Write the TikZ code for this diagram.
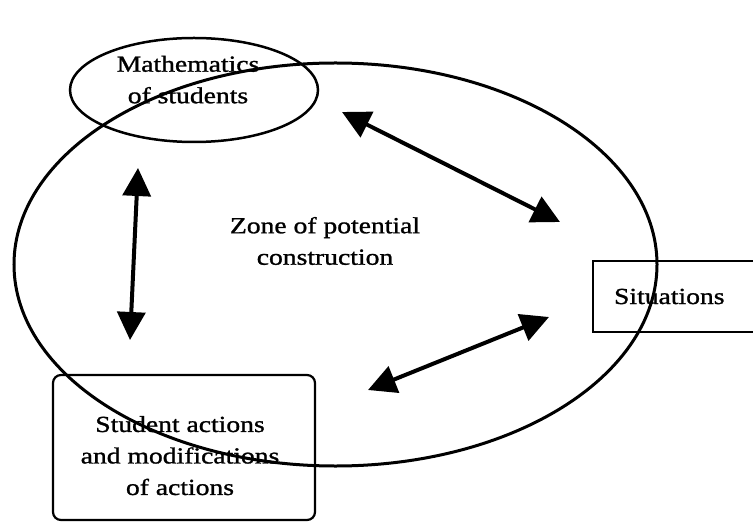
\documentclass[tikz,border=0pt]{standalone}
\usepackage{fontspec}
\setmainfont{Liberation Serif}[FakeStretch=1.2,FakeBold=1.2]
\usetikzlibrary{arrows.meta,shapes.geometric}

\begin{document}
\begin{tikzpicture}[x=1bp,y=-1bp,
  lbl/.style={align=center, font=\fontsize{23bp}{31.5bp}\selectfont, inner sep=0pt},
  ring/.style={draw, ellipse, inner sep=0pt},
  boxline/.style={draw, line width=2.2bp, inner sep=0pt},
  link/.style={line width=4bp,
    {Triangle[length=28bp,width=28bp]}-{Triangle[length=28bp,width=28bp]}}]

\useasboundingbox (0,0) rectangle (753,523);
\clip (0,0) rectangle (753,523);

% the two overlapping regions
\node[ring, line width=3bp, minimum width=643bp, minimum height=403bp] (zone) at (335.5,264.5) {};
\node[ring, line width=2.5bp, minimum width=248bp, minimum height=104bp] (maths) at (194,90) {};

% boxes
\node[boxline, anchor=west, minimum height=71bp, text width=150bp, inner xsep=21bp,
      align=left, font=\fontsize{23bp}{31.5bp}\selectfont] (sit) at (592,296.5) {Situations};
\node[boxline, rounded corners=8bp, minimum width=262bp, minimum height=145bp] (acts) at (184,447.5) {};

% labels
\node[lbl] (mathslbl) at (188,79.6) {Mathematics\\of students};
\node[lbl] (zonelbl) at (325,241) {Zone of potential\\construction};
\node[lbl] (actslbl) at (180,455.6) {Student actions\\and modifications\\of actions};

% arrow ends
\coordinate (a1) at (342,112);
\coordinate (a2) at (560,222);
\coordinate (b1) at (138,168);
\coordinate (b2) at (130,340);
\coordinate (c1) at (368,390);
\coordinate (c2) at (549,317);

% two-way arrows
\draw[link] (a1) -- (a2);
\draw[link] (b1) -- (b2);
\draw[link] (c1) -- (c2);
\end{tikzpicture}
\end{document}
